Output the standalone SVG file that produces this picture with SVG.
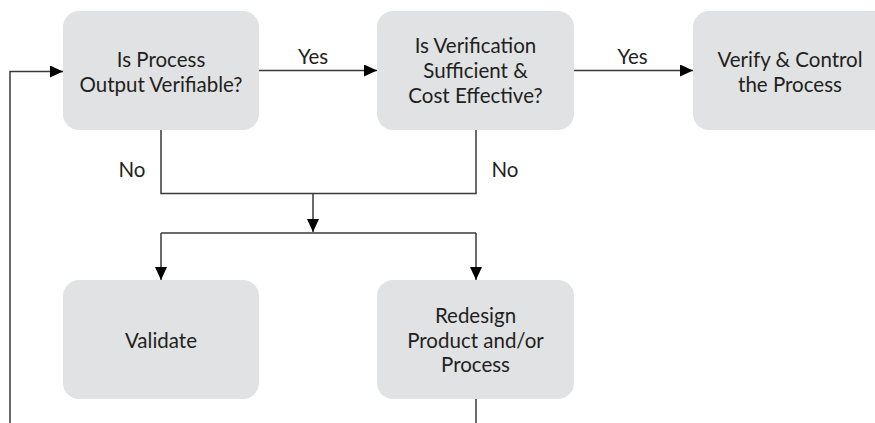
<svg xmlns="http://www.w3.org/2000/svg" width="875" height="423" viewBox="0 0 875 423">
<style>
.box{fill:#e1e2e4;}
.t{font-family:Lato,"Liberation Sans",sans-serif;font-size:20.5px;fill:#231f20;text-anchor:middle;}
.lbl{font-family:Lato,"Liberation Sans",sans-serif;font-size:20.5px;fill:#231f20;text-anchor:middle;}
.c{fill:none;stroke:#3a3a3a;stroke-width:1.5;}
.a{fill:none;stroke:#3a3a3a;stroke-width:1.5;marker-end:url(#ah);}
</style>
<defs>
<marker id="ah" markerUnits="userSpaceOnUse" markerWidth="14" markerHeight="12" refX="13" refY="6" orient="auto">
<path d="M0,0 L13,6 L0,12 z" fill="#000"/>
</marker>
</defs>
<rect width="875" height="423" fill="#fff"/>
<g id="connectors">
<path class="a" d="M259,70.5 H377"/>
<path class="a" d="M574,70.5 H693"/>
<path class="a" d="M10,423 V71.5 H63"/>
<path class="c" d="M161,130 V193.5 H476 V130"/>
<path class="a" d="M313,193.5 V232"/>
<path class="c" d="M161,233 H476"/>
<path class="a" d="M161,233 V280"/>
<path class="a" d="M476,233 V280"/>
<path class="c" d="M476,399 V423"/>
<text class="lbl" x="313" y="64">Yes</text>
<text class="lbl" x="632.5" y="64">Yes</text>
<text class="lbl" x="132" y="177">No</text>
<text class="lbl" x="505" y="177">No</text>
</g>
<g id="n1">
<rect class="box" x="63" y="11" width="196" height="119" rx="16"/>
<text class="t" x="161" y="67">Is Process</text>
<text class="t" x="161" y="92">Output Verifiable?</text>
</g>
<g id="n2">
<rect class="box" x="377" y="11" width="197" height="119" rx="16"/>
<text class="t" x="475.5" y="53">Is Verification</text>
<text class="t" x="475.5" y="78">Sufficient &amp;</text>
<text class="t" x="475.5" y="103">Cost Effective?</text>
</g>
<g id="n3">
<rect class="box" x="693" y="11" width="196" height="119" rx="16"/>
<text class="t" x="790" y="67">Verify &amp; Control</text>
<text class="t" x="790" y="92">the Process</text>
</g>
<g id="n4">
<rect class="box" x="63" y="280" width="196" height="119" rx="16"/>
<text class="t" x="161" y="348">Validate</text>
</g>
<g id="n5">
<rect class="box" x="377" y="280" width="197" height="119" rx="16"/>
<text class="t" x="475.5" y="323">Redesign</text>
<text class="t" x="475.5" y="348">Product and/or</text>
<text class="t" x="475.5" y="372">Process</text>
</g>
</svg>
